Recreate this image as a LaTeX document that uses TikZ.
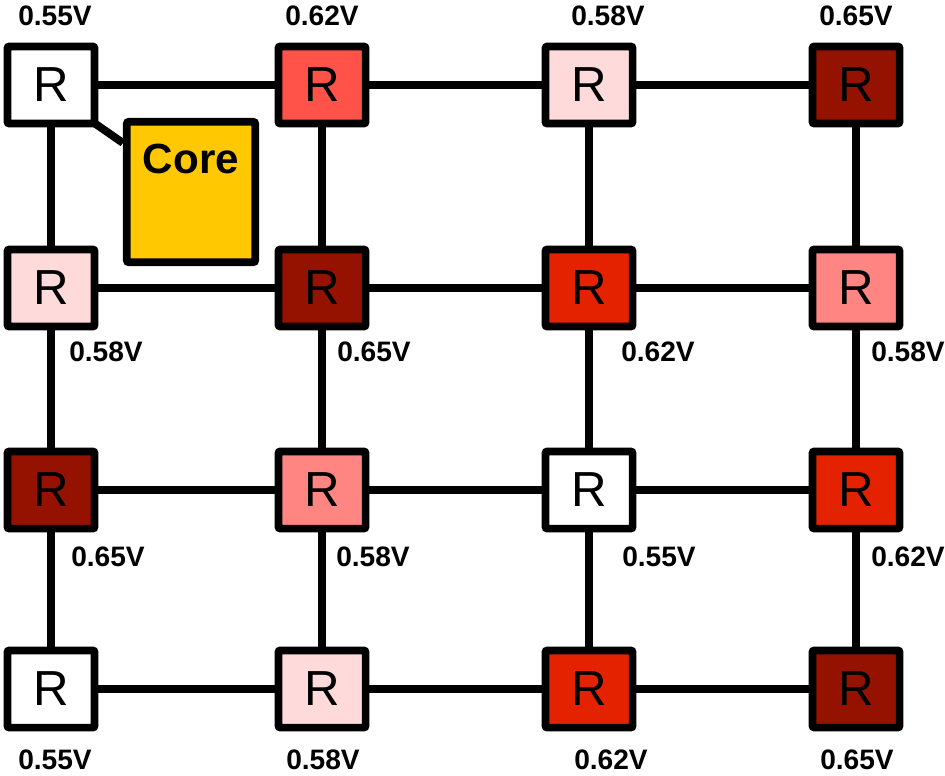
\documentclass[tikz,border=0pt]{standalone}
\usepackage{fontspec}
\setmainfont{Liberation Sans}

% voltage colours
\definecolor{vwhite}{RGB}{255,255,255}
\definecolor{vpink}{RGB}{255,218,218}
\definecolor{vsalmon}{RGB}{255,133,130}
\definecolor{vcoral}{RGB}{255,82,72}
\definecolor{vred}{RGB}{228,34,0}
\definecolor{vdark}{RGB}{150,18,0}
\definecolor{coreyellow}{RGB}{255,200,0}

\begin{document}
\begin{tikzpicture}[
    x=0.025cm, y=-0.025cm,
    router/.style={draw, line width=5.5pt, rounded corners=1.5pt,
        minimum width=2.18cm, minimum height=1.93cm, inner sep=0pt,
        font=\fontsize{35}{35}\selectfont},
    volt/.style={font=\fontsize{20}{20}\selectfont\bfseries},
    link/.style={line width=5.6pt}
]
\useasboundingbox (0,0) rectangle (945,775);

% === Routers ===
% Row 1
\node[router, fill=vwhite]  (r1c1) at (51,85) {R};
\node[router, fill=vcoral]  (r1c2) at (322,85) {R};
\node[router, fill=vpink]   (r1c3) at (589,85) {R};
\node[router, fill=vdark]   (r1c4) at (856,85) {R};

% Row 2
\node[router, fill=vpink]   (r2c1) at (51,288) {R};
\node[router, fill=vdark]   (r2c2) at (322,288) {R};
\node[router, fill=vred]    (r2c3) at (589,288) {R};
\node[router, fill=vsalmon] (r2c4) at (856,288) {R};

% Row 3
\node[router, fill=vdark]   (r3c1) at (51,490) {R};
\node[router, fill=vsalmon] (r3c2) at (322,490) {R};
\node[router, fill=vwhite]  (r3c3) at (589,490) {R};
\node[router, fill=vred]    (r3c4) at (856,490) {R};

% Row 4
\node[router, fill=vwhite]  (r4c1) at (51,689) {R};
\node[router, fill=vpink]   (r4c2) at (322,689) {R};
\node[router, fill=vred]    (r4c3) at (589,689) {R};
\node[router, fill=vdark]   (r4c4) at (856,689) {R};

% Core
\node[draw, line width=5.5pt, rounded corners=1.5pt, fill=coreyellow,
      minimum width=3.21cm, minimum height=3.51cm] (core) at (191,192) {};
\node[font=\fontsize{30}{30}\selectfont\bfseries] (corename) at (191,159) {Core};

% === Links ===
% horizontal
\draw[link] (r1c1) -- (r1c2);
\draw[link] (r1c2) -- (r1c3);
\draw[link] (r1c3) -- (r1c4);
\draw[link] (r2c1) -- (r2c2);
\draw[link] (r2c2) -- (r2c3);
\draw[link] (r2c3) -- (r2c4);
\draw[link] (r3c1) -- (r3c2);
\draw[link] (r3c2) -- (r3c3);
\draw[link] (r3c3) -- (r3c4);
\draw[link] (r4c1) -- (r4c2);
\draw[link] (r4c2) -- (r4c3);
\draw[link] (r4c3) -- (r4c4);

% vertical
\draw[link] (r1c1) -- (r2c1);
\draw[link] (r2c1) -- (r3c1);
\draw[link] (r3c1) -- (r4c1);
\draw[link] (r1c2) -- (r2c2);
\draw[link] (r2c2) -- (r3c2);
\draw[link] (r3c2) -- (r4c2);
\draw[link] (r1c3) -- (r2c3);
\draw[link] (r2c3) -- (r3c3);
\draw[link] (r3c3) -- (r4c3);
\draw[link] (r1c4) -- (r2c4);
\draw[link] (r2c4) -- (r3c4);
\draw[link] (r3c4) -- (r4c4);

% core attach
\draw[link] ([shift={(-5,-5)}]r1c1.south east) -- ([yshift=-0.625cm]core.north west);

% === Voltage labels ===
\node[volt] (v1c1) at (55,16) {0.55V};
\node[volt] (v1c2) at (322,16) {0.62V};
\node[volt] (v1c3) at (608,16) {0.58V};
\node[volt] (v1c4) at (856,16) {0.65V};

\node[volt] (v2c1) at (106,352) {0.58V};
\node[volt] (v2c2) at (374,352) {0.65V};
\node[volt] (v2c3) at (658,352) {0.62V};
\node[volt] (v2c4) at (908,352) {0.58V};

\node[volt] (v3c1) at (108,557) {0.65V};
\node[volt] (v3c2) at (373,557) {0.58V};
\node[volt] (v3c3) at (659,557) {0.55V};
\node[volt] (v3c4) at (908,557) {0.62V};

\node[volt] (v4c1) at (55,760) {0.55V};
\node[volt] (v4c2) at (323,760) {0.58V};
\node[volt] (v4c3) at (611,760) {0.62V};
\node[volt] (v4c4) at (857,760) {0.65V};

\end{tikzpicture}
\end{document}
